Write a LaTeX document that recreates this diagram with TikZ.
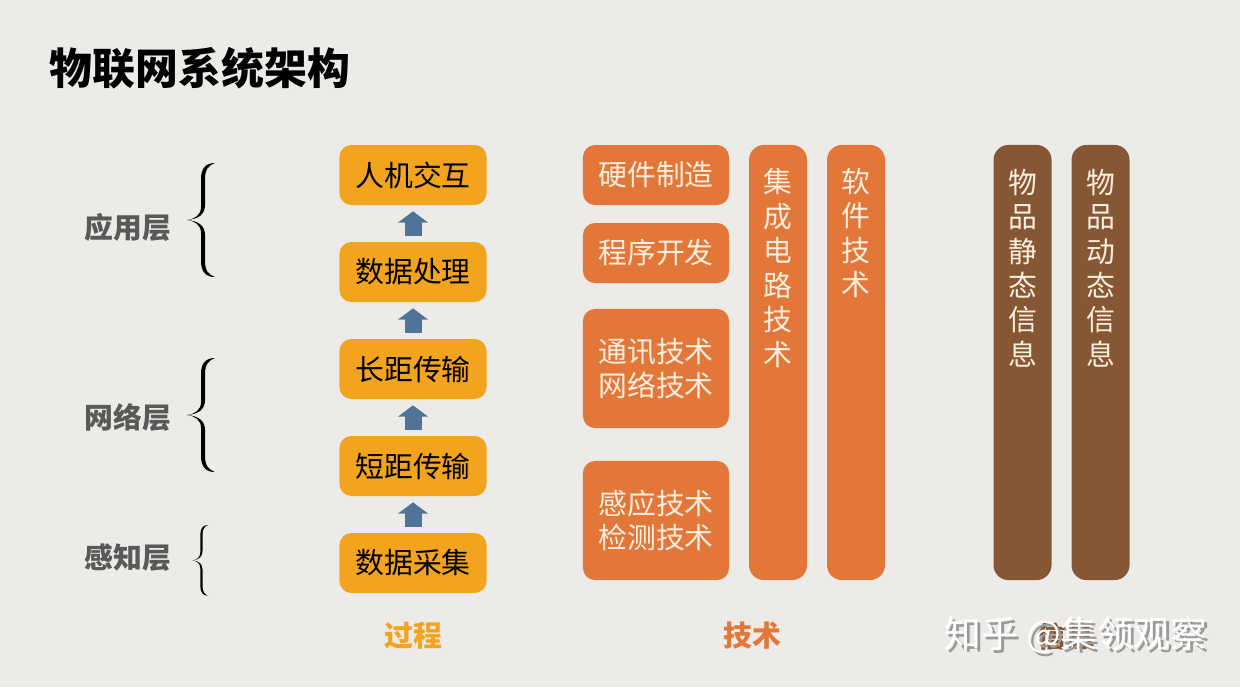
\documentclass[tikz,border=0pt]{standalone}
\usepackage{fontspec}
\newfontfamily\cjk{Noto Sans CJK SC}
\usetikzlibrary{arrows.meta}

\definecolor{bgc}{HTML}{EDEBE8}
\definecolor{procfill}{HTML}{F2A41E}
\definecolor{techfill}{HTML}{E3773A}
\definecolor{infofill}{HTML}{865734}
\definecolor{arrowc}{HTML}{4F7498}
\definecolor{layertext}{HTML}{595959}
\definecolor{techtext}{HTML}{FCEEDD}

\tikzset{
    boxfont/.style={font=\cjk\fontsize{20.5}{24.5}\selectfont},
    proc/.style={rectangle, rounded corners=0.3cm, fill=procfill, minimum width=3.675cm, minimum height=1.5cm, boxfont},
    tech/.style={rectangle, rounded corners=0.3cm, fill=techfill, text=techtext, minimum width=3.65cm, align=center, boxfont},
    column/.style={rectangle, rounded corners=0.375cm, minimum width=1.45cm, minimum height=10.875cm},
    coltext/.style={align=center, text=techtext, inner sep=0pt, boxfont},
    layer/.style={text=layertext, font=\cjk\bfseries\fontsize{20.5}{24}\selectfont},
    bottom/.style={font=\cjk\bfseries\fontsize{20.5}{24}\selectfont},
    watermark/.style={font=\cjk\fontsize{26}{30}\selectfont},
    uparrow/.style={draw=arrowc, line width=0.425cm, -{Triangle[width=0.73cm,length=0.28cm]}, shorten <=0.15cm, shorten >=0.15cm},
    % brace: top end at (0,0), 28 wide, 114 tall
    layerbrace/.pic={
        \fill[black] (0,0) .. controls (-9,0) and (-14,5) .. (-14,16)
            -- (-14,44) .. controls (-14,52) and (-20,56) .. (-28,57)
            .. controls (-20,58) and (-14,62) .. (-14,70)
            -- (-14,98) .. controls (-14,109) and (-9,114) .. (0,114)
            .. controls (-6,112) and (-10,108) .. (-10,98)
            -- (-10,72) .. controls (-10,63) and (-16,58) .. (-28,57)
            .. controls (-16,56) and (-10,51) .. (-10,42)
            -- (-10,16) .. controls (-10,6) and (-6,2) .. (0,0) -- cycle;
    }
}

\begin{document}
\begin{tikzpicture}[x=0.025cm, y=-0.025cm]
    \useasboundingbox[fill=bgc] (0,0) rectangle (1240,687);

    % Title
    \path (45,68) node[anchor=west, font=\cjk\bfseries\fontsize{30.5}{34}\selectfont] (title) {物联网系统架构};

    % Layer labels
    \path
    (128,228) node[layer] (app) {应用层}
    (128,418) node[layer] (net) {网络层}
    (128,558) node[layer] (sense) {感知层}
    ;

    % Layer braces
    \pic at (215,163) {layerbrace};
    \pic at (215,358) {layerbrace};
    \pic[xscale=0.55, yscale=0.62] at (208,525) {layerbrace};

    % Process nodes
    \path
    (413,175) node[proc] (hmi) {人机交互}
    (413,272) node[proc] (dproc) {数据处理}
    (413,369) node[proc] (longtx) {长距传输}
    (413,466) node[proc] (shorttx) {短距传输}
    (413,563) node[proc] (dacq) {数据采集}
    ;

    % Process arrows
    \draw[uparrow] (dacq) -- (shorttx);
    \draw[uparrow] (shorttx) -- (longtx);
    \draw[uparrow] (longtx) -- (dproc);
    \draw[uparrow] (dproc) -- (hmi);

    % Technology nodes
    \path
    (656,175) node[tech, minimum height=1.5cm] (hw) {硬件制造}
    (656,253) node[tech, minimum height=1.5cm] (prog) {程序开发}
    (656,368.5) node[tech, minimum height=2.975cm] (comm) {通讯技术\\网络技术}
    (656,520.5) node[tech, minimum height=2.975cm] (sensor) {感应技术\\检测技术}
    ;

    % Columns
    \path
    (778,362.5) node[column, fill=techfill] (ic) {}
    (856,362.5) node[column, fill=techfill] (soft) {}
    (1022.5,362.5) node[column, fill=infofill] (static) {}
    (1100.5,362.5) node[column, fill=infofill] (dynamic) {}
    ;

    % Column texts
    \path
    (778,268) node[coltext] (ictext) {集\\成\\电\\路\\技\\术}
    (856,233) node[coltext] (softtext) {软\\件\\技\\术}
    (1022.5,268) node[coltext] (statictext) {物\\品\\静\\态\\信\\息}
    (1100.5,268) node[coltext] (dynamictext) {物\\品\\动\\态\\信\\息}
    ;

    % Bottom labels
    \path
    (413,636) node[bottom, text=procfill] (proclabel) {过程}
    (752,636) node[bottom, text=techfill] (techlabel) {技术}
    (1066,636) node[bottom, text=infofill] (infolabel) {信息}
    ;

    % Watermark
    \path
    (1079,638) node[watermark, text=black!40] (markshadow) {知乎 @集领观察}
    (1076,635) node[watermark, text=white] (marktext) {知乎 @集领观察}
    ;

\end{tikzpicture}
\end{document}
